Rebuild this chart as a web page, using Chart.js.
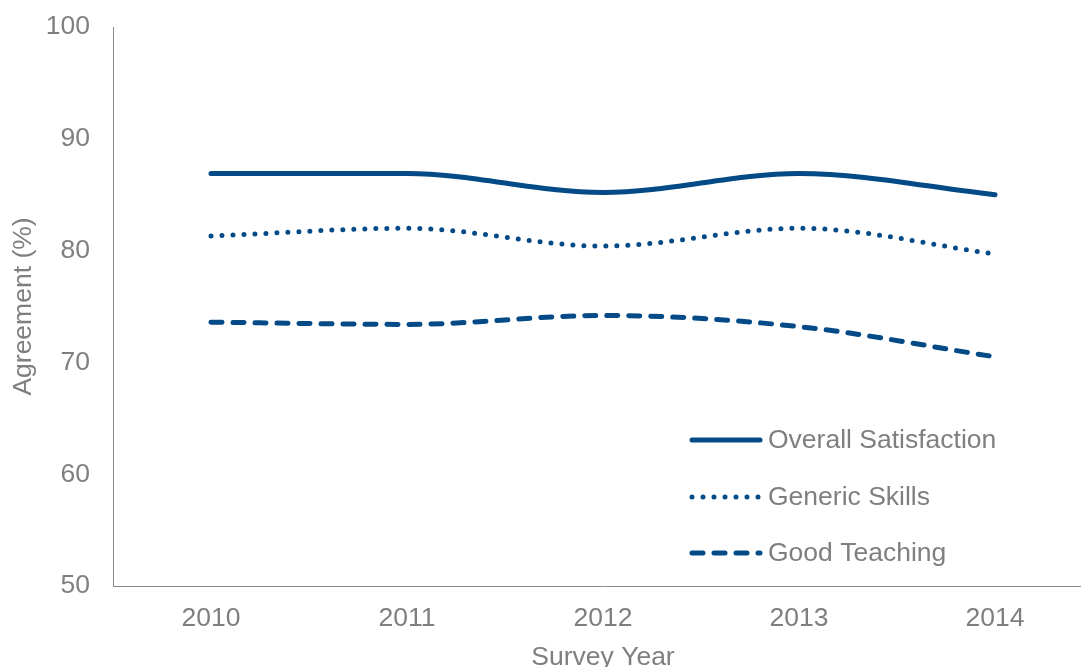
<!DOCTYPE html>
<html>
<head>
<meta charset="utf-8">
<script src="https://cdn.jsdelivr.net/npm/chart.js@4.4.0/dist/chart.umd.min.js"></script>
<style>
  html, body { margin: 0; padding: 0; background: #ffffff; overflow: hidden; width: 1081px; height: 667px; }
  #wrap { position: absolute; left: 0; top: 0; width: 1093px; height: 675px; }
</style>
</head>
<body>
<div id="wrap"><canvas id="c" width="1093" height="675"></canvas></div>
<script>
const categories = ['2010', '2011', '2012', '2013', '2014'];
const overallSatisfaction = [86.9, 86.9, 85.2, 86.9, 85.0];
const genericSkills = [81.3, 82.0, 80.4, 82.0, 79.7];
const goodTeaching = [73.6, 73.4, 74.2, 73.2, 70.5];
const seriesNames = ['Overall Satisfaction', 'Generic Skills', 'Good Teaching'];
const yTicks = [50, 60, 70, 80, 90, 100];

const LINE = '#034a87';
const TEXT = '#7f7f7f';
const AXIS = '#898989';
const FONT = '"Liberation Sans", Arial, Helvetica, sans-serif';
const FS = 26.5;

const legendPlugin = {
  id: 'insideLegend',
  afterDatasetsDraw(chart) {
    const ctx = chart.ctx;
    const rows = [440, 497, 553];
    chart.data.datasets.forEach((ds, i) => {
      const y = rows[i];
      ctx.save();
      ctx.strokeStyle = ds.borderColor;
      ctx.lineWidth = ds.borderWidth;
      ctx.lineCap = 'round';
      ctx.setLineDash(ds.borderDash || []);
      ctx.beginPath();
      ctx.moveTo(692, y);
      ctx.lineTo(760, y);
      ctx.stroke();
      ctx.restore();
      ctx.save();
      ctx.fillStyle = TEXT;
      ctx.font = FS + 'px ' + FONT;
      ctx.textBaseline = 'middle';
      ctx.textAlign = 'left';
      ctx.fillText(ds.label, 768, y + 1);
      ctx.restore();
    });
  }
};

new Chart(document.getElementById('c'), {
  type: 'line',
  data: {
    labels: categories,
    datasets: [
      { label: seriesNames[0], data: overallSatisfaction, borderColor: LINE, borderWidth: 5,
        borderCapStyle: 'round', borderJoinStyle: 'round', pointRadius: 0, cubicInterpolationMode: 'monotone', fill: false },
      { label: seriesNames[1], data: genericSkills, borderColor: LINE, borderWidth: 5, borderDash: [0, 11],
        borderCapStyle: 'round', borderJoinStyle: 'round', pointRadius: 0, cubicInterpolationMode: 'monotone', fill: false },
      { label: seriesNames[2], data: goodTeaching, borderColor: LINE, borderWidth: 5, borderDash: [11, 11],
        borderCapStyle: 'round', borderJoinStyle: 'round', pointRadius: 0, cubicInterpolationMode: 'monotone', fill: false }
    ]
  },
  options: {
    responsive: false,
    animation: false,
    devicePixelRatio: 1,
    layout: { padding: { top: 27, right: 0, bottom: 0, left: 0 } },
    plugins: { legend: { display: false }, tooltip: { enabled: false } },
    scales: {
      x: {
        offset: true,
        grid: { display: false, drawTicks: false },
        border: { display: true, color: AXIS, width: 1 },
        ticks: { color: TEXT, font: { family: FONT, size: FS }, padding: 17, maxRotation: 0 },
        title: { display: true, text: 'Survey Year', color: TEXT, font: { family: FONT, size: FS }, padding: { top: 4, bottom: 1 } },
        afterFit(scale) { scale.height = 89; scale.paddingLeft = 0; scale.paddingRight = 0; }
      },
      y: {
        min: 50, max: 100,
        afterBuildTicks(scale) { scale.ticks = yTicks.map(v => ({ value: v })); },
        grid: { display: false, drawTicks: false },
        border: { display: true, color: AXIS, width: 1 },
        ticks: { color: TEXT, font: { family: FONT, size: FS }, padding: 23 },
        title: { display: true, text: 'Agreement (%)', color: TEXT, font: { family: FONT, size: FS }, padding: { top: 8, bottom: 4 } },
        afterFit(scale) { scale.width = 113; scale.paddingTop = 0; scale.paddingBottom = 0; }
      }
    }
  },
  plugins: [legendPlugin]
});
</script>
</body>
</html>
